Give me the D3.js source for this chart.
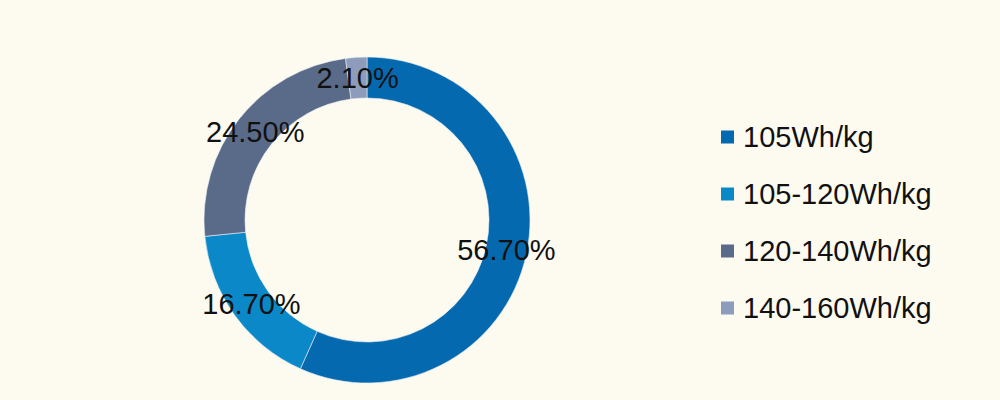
<!DOCTYPE html>
<html>
<head>
<meta charset="utf-8">
<script src="https://cdn.jsdelivr.net/npm/d3@7"></script>
<style>
  html, body { margin: 0; padding: 0; background: #fdfbf0; }
  svg { display: block; font-family: "Liberation Sans", Arial, sans-serif; }
</style>
</head>
<body>
<div id="chart"></div>
<script>
// Energy density share
const categories = ["105Wh/kg", "105-120Wh/kg", "120-140Wh/kg", "140-160Wh/kg"];
const values = [56.7, 16.7, 24.5, 2.1];
const colors = ["#0569b0", "#0b88c8", "#5a6a89", "#8e9cbc"];

const width = 1000, height = 400;
const cx = 367, cy = 220;
const outerR = 163, innerR = 122;

const svg = d3.select("#chart").append("svg")
    .attr("width", width)
    .attr("height", height);

svg.append("rect").attr("width", width).attr("height", height).attr("fill", "#fdfbf0");

const data = categories.map((c, i) => ({ name: c, value: values[i], color: colors[i] }));

const pie = d3.pie().value(d => d.value).sort(null);
const arc = d3.arc().innerRadius(innerR).outerRadius(outerR);

const g = svg.append("g").attr("transform", `translate(${cx},${cy})`);
const arcs = pie(data);

g.selectAll("path")
    .data(arcs)
    .join("path")
    .attr("d", arc)
    .attr("fill", d => d.data.color)
    .attr("stroke", "#e8eef4")
    .attr("stroke-width", 0.6);

// labels sit on the arc centroid
g.selectAll("text")
    .data(arcs)
    .join("text")
    .attr("transform", d => `translate(${arc.centroid(d)})`)
    .attr("text-anchor", "middle")
    .attr("dy", "0.36em")
    .attr("font-size", 29)
    .attr("fill", "#111")
    .text(d => d.data.value.toFixed(2) + "%");

// legend
const legend = svg.append("g").attr("transform", "translate(721,0)");
const y = d3.scalePoint().domain(categories).range([137, 308]);

const item = legend.selectAll("g")
    .data(data)
    .join("g")
    .attr("transform", d => `translate(0,${y(d.name)})`);

item.append("rect")
    .attr("x", 0).attr("y", -6.5)
    .attr("width", 13).attr("height", 13)
    .attr("fill", d => d.color);

item.append("text")
    .attr("x", 22)
    .attr("dy", "0.36em")
    .attr("font-size", 29)
    .attr("fill", "#111")
    .text(d => d.name);
</script>
</body>
</html>
